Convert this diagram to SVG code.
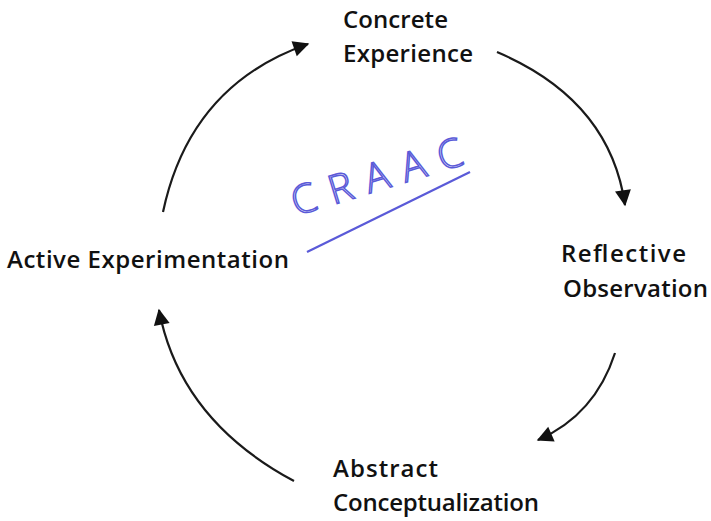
<svg xmlns="http://www.w3.org/2000/svg" width="711" height="521" viewBox="0 0 711 521">
<style>
.lbl{font-family:"Comic Sans MS","Open Sans","Noto Sans",sans-serif;font-size:24px;fill:#111;font-weight:600}
.arc{fill:none;stroke:#1a1a1a;stroke-width:2.2}
.hand{font-family:"Open Sans","Noto Sans",sans-serif;font-size:40px;fill:none;stroke:#5a5ad8;stroke-width:1.5;font-weight:300}
</style>
<defs>
<marker id="ah" viewBox="0 0 12 12" refX="10" refY="6" markerWidth="8" markerHeight="8" markerUnits="userSpaceOnUse" orient="auto" style="overflow:visible">
<path d="M0,0 L12,6 L0,12 Z" fill="#111" transform="scale(2) translate(-6,-3)"/>
</marker>
</defs>
<rect width="711" height="521" fill="#ffffff"/>
<g id="connectors">
<path class="arc" d="M163,212 Q190,85 308,44" marker-end="url(#ah)"/>
<path class="arc" d="M497,52 Q610,100 625,205" marker-end="url(#ah)"/>
<path class="arc" d="M615,353 Q595,415 538,440" marker-end="url(#ah)"/>
<path class="arc" d="M294,481 Q180,420 159,310" marker-end="url(#ah)"/>
</g>
<g id="concrete"><text class="lbl" x="343" y="28" textLength="105">Concrete</text><text class="lbl" x="343" y="62" textLength="130">Experience</text></g>
<g id="reflective"><text class="lbl" x="561" y="262" textLength="125">Reflective</text><text class="lbl" x="563" y="297" textLength="145">Observation</text></g>
<g id="abstract"><text class="lbl" x="333" y="477" textLength="105">Abstract</text><text class="lbl" x="333" y="511" textLength="206">Conceptualization</text></g>
<g id="active"><text class="lbl" x="7" y="268" textLength="282">Active Experimentation</text></g>
<g id="craac">
<text class="hand" transform="translate(296,216) rotate(-17)" letter-spacing="14">CRAAC</text>
<path d="M307,252 L470,172" stroke="#5a5ad8" stroke-width="2.2" fill="none"/>
</g>
</svg>
